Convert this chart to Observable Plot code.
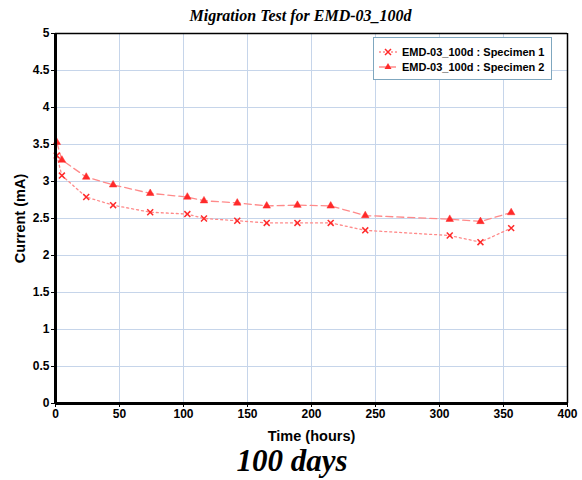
<!DOCTYPE html>
<html>
<head>
<meta charset="utf-8">
<script src="https://cdn.jsdelivr.net/npm/d3@7"></script>
<script src="https://cdn.jsdelivr.net/npm/@observablehq/plot@0.6"></script>
<style>
  body { margin: 0; background: #fff; }
  #wrap { position: relative; width: 582px; height: 480px; }
  #legend { position: absolute; left: 373px; top: 37px; width: 177px; height: 41px; border: 1px solid #7fa7bf; background: #fff;
    font-family: "Liberation Sans", Arial, sans-serif; font-weight: bold; font-size: 11px; color: #000; }
  .row { position: absolute; left: 4px; height: 14px; display: flex; align-items: center; }
  .row svg { margin-right: 4px; }
</style>
</head>
<body>
<div id="wrap"></div>
<script>
const times = [1, 5, 24, 45, 74, 103, 116, 142, 165, 189, 215, 242, 308, 332, 356];
const specimen1 = [3.35, 3.08, 2.79, 2.68, 2.585, 2.56, 2.50, 2.47, 2.44, 2.44, 2.44, 2.34, 2.27, 2.18, 2.37];
const specimen2 = [3.53, 3.29, 3.06, 2.955, 2.84, 2.79, 2.74, 2.71, 2.67, 2.68, 2.67, 2.54, 2.49, 2.46, 2.58];
const seriesNames = ["EMD-03_100d : Specimen 1", "EMD-03_100d : Specimen 2"];
const xTicks = [0, 50, 100, 150, 200, 250, 300, 350, 400];
const yTicks = [0, 0.5, 1, 1.5, 2, 2.5, 3, 3.5, 4, 4.5, 5];

const d1 = times.map((t, i) => ({t, v: specimen1[i]}));
const d2 = times.map((t, i) => ({t, v: specimen2[i]}));

const lineColor = "#ff8a8a";
const markColor = "#ff2a2a";
const gridColor = "#c6d5ea";

const chart = Plot.plot({
  width: 582, height: 480,
  marginLeft: 55, marginRight: 15, marginTop: 33, marginBottom: 77,
  style: {fontFamily: "'Liberation Sans', Arial, sans-serif", fontSize: "12px", fontWeight: "bold", color: "#000", background: "#fff"},
  x: {domain: [0, 400]},
  y: {domain: [0, 5]},
  marks: [
    Plot.gridX(xTicks.slice(1, -1), {stroke: gridColor, strokeOpacity: 1, strokeWidth: 1}),
    Plot.gridY(yTicks.slice(1, -1), {stroke: gridColor, strokeOpacity: 1, strokeWidth: 1}),
    Plot.line(d1, {x: "t", y: "v", stroke: lineColor, strokeWidth: 1.3, strokeDasharray: "2,3"}),
    Plot.line(d2, {x: "t", y: "v", stroke: lineColor, strokeWidth: 1.3, strokeDasharray: "7,4"}),
    Plot.dot(d1, {x: "t", y: "v", symbol: "times", r: 2.8, stroke: markColor, strokeWidth: 1.5}),
    Plot.dot(d2, {x: "t", y: "v", symbol: "triangle", r: 2.8, fill: markColor, stroke: markColor, strokeWidth: 0.5}),
    Plot.ruleX([0], {stroke: "#000", strokeWidth: 3}),
    Plot.ruleY([0], {stroke: "#000", strokeWidth: 3}),
    Plot.ruleX([400], {stroke: "#000", strokeWidth: 1.5}),
    Plot.ruleY([5], {stroke: "#000", strokeWidth: 1.5}),
    Plot.axisX(xTicks, {tickSize: 4, tickPadding: 2, label: null, tickFormat: d => String(d), fontWeight: "bold", fontSize: 12}),
    Plot.axisY(yTicks, {tickSize: 4, tickPadding: 2, label: null, tickFormat: d => String(d), fontWeight: "bold", fontSize: 12}),
    Plot.text(["Migration Test for EMD-03_100d"], {frameAnchor: "top-left", dx: 245, dy: -18, text: d => d, textAnchor: "middle", lineAnchor: "middle",
      fontFamily: "'Liberation Serif', 'Times New Roman', serif", fontStyle: "italic", fontWeight: "bold", fontSize: 16}),
    Plot.text(["Current (mA)"], {frameAnchor: "top-left", dx: -35, dy: 185, rotate: -90, text: d => d, textAnchor: "middle", lineAnchor: "middle", fontWeight: "bold", fontSize: 14.5}),
    Plot.text(["Time (hours)"], {frameAnchor: "top-left", dx: 256, dy: 403, text: d => d, textAnchor: "middle", lineAnchor: "middle", fontWeight: "bold", fontSize: 14.5}),
    Plot.text(["100 days"], {frameAnchor: "top-left", dx: 236.5, dy: 428, text: d => d, textAnchor: "middle", lineAnchor: "middle",
      fontFamily: "'Liberation Serif', 'Times New Roman', serif", fontStyle: "italic", fontWeight: "bold", fontSize: 31})
  ]
});

const wrap = document.getElementById("wrap");
wrap.appendChild(chart);

const legend = document.createElement("div");
legend.id = "legend";
const sym1 = `<svg width="20" height="10"><line x1="1" y1="5" x2="19" y2="5" stroke="${lineColor}" stroke-width="1.3" stroke-dasharray="2,2"/><path d="M7,2 L13,8 M13,2 L7,8" stroke="${markColor}" stroke-width="1.5"/></svg>`;
const sym2 = `<svg width="20" height="10"><line x1="1" y1="5" x2="19" y2="5" stroke="${lineColor}" stroke-width="1.3" stroke-dasharray="7,3"/><path d="M10,1 L13.5,7 L6.5,7 Z" fill="${markColor}"/></svg>`;
legend.innerHTML = `<div class="row" style="top:7px">${sym1}<span>${seriesNames[0]}</span></div>
<div class="row" style="top:22px">${sym2}<span>${seriesNames[1]}</span></div>`;
wrap.appendChild(legend);
</script>
</body>
</html>
